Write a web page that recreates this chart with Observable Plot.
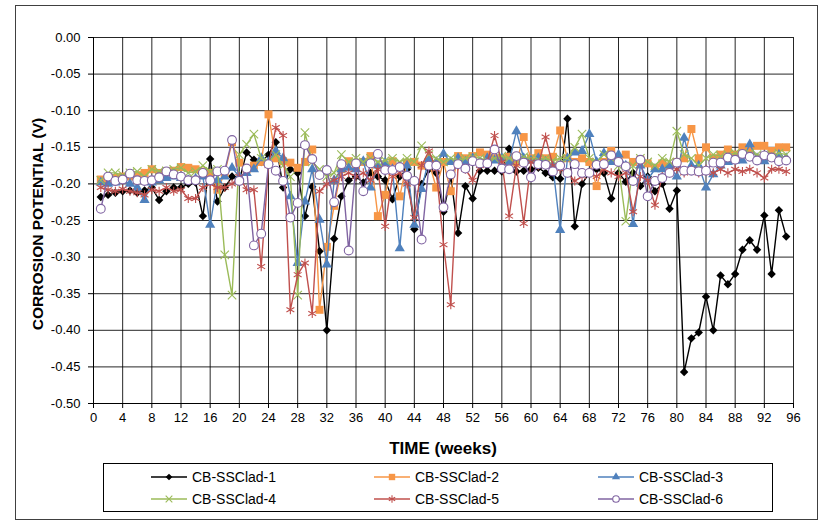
<!DOCTYPE html>
<html>
<head>
<meta charset="utf-8">
<script src="https://cdn.jsdelivr.net/npm/d3@7"></script>
<script src="https://cdn.jsdelivr.net/npm/@observablehq/plot@0.6"></script>
<style>
  html, body { margin: 0; padding: 0; background: #fff; }
  body { font-family: "Liberation Sans", Arial, sans-serif; }
  #wrap { position: relative; width: 822px; height: 524px; overflow: hidden; }
  #frame { position: absolute; left: 15px; top: 5px; width: 803px; height: 515px; border: 1px solid #404040; box-sizing: border-box; }
  #chart { position: absolute; left: 0; top: 0; }
  #ytitle { position: absolute; left: 38px; top: 224px; transform: translate(-50%, -50%) rotate(-90deg); font-weight: bold; font-size: 15.5px; white-space: nowrap; color: #000; }
  #xtitle { position: absolute; left: 443px; top: 449px; transform: translate(-50%, -50%); font-weight: bold; font-size: 17px; white-space: nowrap; color: #000; }
  #legend { position: absolute; left: 103px; top: 463px; width: 670px; height: 49px; border: 1px solid #000; box-sizing: border-box; }
  .item { position: absolute; height: 18px; display: flex; align-items: center; font-size: 14px; color: #000; white-space: nowrap; }
  .item svg { display: block; margin-right: 5px; }
</style>
</head>
<body>
<div id="wrap">
  <div id="frame"></div>
  <div id="chart"></div>
  <div id="ytitle">CORROSION POTENTIAL (V)</div>
  <div id="xtitle">TIME (weeks)</div>
  <div id="legend"></div>
</div>
<script>
// ---------------- DATA ----------------
const weeks = [1,2,3,4,5,6,7,8,9,10,11,12,13,14,15,16,17,18,19,20,21,22,23,24,25,26,27,28,29,30,31,32,33,34,35,36,37,38,39,40,41,42,43,44,45,46,47,48,49,50,51,52,53,54,55,56,57,58,59,60,61,62,63,64,65,66,67,68,69,70,71,72,73,74,75,76,77,78,79,80,81,82,83,84,85,86,87,88,89,90,91,92,93,94,95];

const seriesNames = ["CB-SSClad-1","CB-SSClad-2","CB-SSClad-3","CB-SSClad-4","CB-SSClad-5","CB-SSClad-6"];

const clad1 = [-0.218,-0.215,-0.212,-0.210,-0.209,-0.212,-0.209,-0.205,-0.222,-0.210,-0.205,-0.205,-0.200,-0.198,-0.244,-0.166,-0.224,-0.205,-0.190,-0.195,
  -0.157,-0.167,-0.170,-0.160,-0.143,-0.205,-0.180,-0.185,-0.244,-0.204,-0.292,-0.400,-0.275,-0.217,-0.195,-0.190,-0.198,-0.185,-0.190,-0.195,
  -0.221,-0.190,-0.180,-0.262,-0.200,-0.180,-0.185,-0.238,-0.190,-0.267,-0.203,-0.220,-0.182,-0.182,-0.182,-0.183,-0.152,-0.183,-0.182,-0.180,
  -0.178,-0.185,-0.191,-0.193,-0.111,-0.258,-0.200,-0.185,-0.180,-0.185,-0.220,-0.185,-0.197,-0.185,-0.203,-0.190,-0.210,-0.200,-0.234,-0.209,
  -0.457,-0.411,-0.403,-0.354,-0.400,-0.325,-0.337,-0.323,-0.290,-0.277,-0.290,-0.243,-0.323,-0.236,-0.272];

const clad2 = [-0.194,-0.195,-0.192,-0.190,-0.190,-0.188,-0.185,-0.180,-0.185,-0.183,-0.182,-0.177,-0.178,-0.180,-0.183,-0.185,-0.208,-0.185,-0.143,-0.171,
  -0.180,-0.175,-0.170,-0.105,-0.165,-0.169,-0.171,-0.178,-0.170,-0.153,-0.372,-0.286,-0.230,-0.180,-0.169,-0.175,-0.170,-0.162,-0.244,-0.215,
  -0.169,-0.217,-0.171,-0.170,-0.175,-0.170,-0.205,-0.170,-0.210,-0.162,-0.165,-0.162,-0.157,-0.160,-0.165,-0.165,-0.163,-0.170,-0.136,-0.165,
  -0.158,-0.165,-0.163,-0.127,-0.165,-0.170,-0.165,-0.170,-0.203,-0.170,-0.155,-0.165,-0.160,-0.170,-0.167,-0.172,-0.178,-0.172,-0.176,-0.170,
  -0.165,-0.125,-0.165,-0.150,-0.165,-0.160,-0.153,-0.160,-0.150,-0.155,-0.148,-0.148,-0.155,-0.150,-0.150];

const clad3 = [-0.198,-0.200,-0.198,-0.195,-0.200,-0.205,-0.222,-0.198,-0.195,-0.192,-0.190,-0.192,-0.195,-0.193,-0.190,-0.256,-0.195,-0.190,-0.178,-0.190,
  -0.185,-0.180,-0.165,-0.170,-0.155,-0.165,-0.217,-0.308,-0.224,-0.180,-0.249,-0.310,-0.195,-0.180,-0.178,-0.180,-0.169,-0.205,-0.175,-0.171,
  -0.180,-0.288,-0.175,-0.256,-0.207,-0.166,-0.170,-0.159,-0.170,-0.165,-0.170,-0.165,-0.170,-0.165,-0.168,-0.165,-0.170,-0.128,-0.165,-0.168,
  -0.165,-0.170,-0.175,-0.263,-0.165,-0.157,-0.155,-0.132,-0.170,-0.158,-0.170,-0.160,-0.175,-0.255,-0.175,-0.194,-0.180,-0.180,-0.175,-0.190,
  -0.137,-0.175,-0.175,-0.205,-0.187,-0.175,-0.170,-0.168,-0.168,-0.146,-0.165,-0.169,-0.165,-0.160,-0.165];

const clad4 = [-0.195,-0.185,-0.185,-0.188,-0.185,-0.183,-0.190,-0.180,-0.183,-0.182,-0.180,-0.178,-0.185,-0.183,-0.175,-0.183,-0.180,-0.297,-0.352,-0.160,
  -0.146,-0.132,-0.165,-0.170,-0.160,-0.175,-0.190,-0.352,-0.130,-0.170,-0.180,-0.190,-0.185,-0.160,-0.170,-0.165,-0.170,-0.165,-0.170,-0.168,
  -0.165,-0.170,-0.165,-0.170,-0.148,-0.160,-0.165,-0.170,-0.165,-0.168,-0.165,-0.163,-0.165,-0.168,-0.165,-0.162,-0.165,-0.168,-0.163,-0.165,
  -0.167,-0.165,-0.168,-0.165,-0.165,-0.150,-0.132,-0.165,-0.170,-0.160,-0.165,-0.175,-0.251,-0.175,-0.165,-0.170,-0.175,-0.165,-0.170,-0.128,
  -0.160,-0.165,-0.175,-0.165,-0.160,-0.162,-0.160,-0.158,-0.160,-0.158,-0.160,-0.162,-0.160,-0.158,-0.160];

const clad5 = [-0.205,-0.208,-0.210,-0.207,-0.210,-0.212,-0.215,-0.208,-0.210,-0.205,-0.210,-0.208,-0.220,-0.220,-0.205,-0.200,-0.205,-0.205,-0.200,-0.190,
  -0.208,-0.208,-0.313,-0.175,-0.123,-0.134,-0.372,-0.324,-0.308,-0.377,-0.210,-0.200,-0.195,-0.190,-0.185,-0.190,-0.185,-0.195,-0.180,-0.258,
  -0.190,-0.185,-0.200,-0.246,-0.175,-0.155,-0.180,-0.283,-0.365,-0.175,-0.180,-0.195,-0.175,-0.170,-0.134,-0.170,-0.244,-0.175,-0.254,-0.170,
  -0.175,-0.136,-0.175,-0.180,-0.185,-0.196,-0.190,-0.185,-0.190,-0.180,-0.185,-0.190,-0.185,-0.238,-0.190,-0.195,-0.229,-0.190,-0.185,-0.180,
  -0.185,-0.180,-0.185,-0.180,-0.185,-0.180,-0.185,-0.180,-0.183,-0.180,-0.185,-0.192,-0.180,-0.180,-0.183];

const clad6 = [-0.234,-0.190,-0.196,-0.194,-0.186,-0.195,-0.196,-0.195,-0.191,-0.183,-0.187,-0.190,-0.195,-0.195,-0.185,-0.195,-0.183,-0.182,-0.140,-0.196,
  -0.179,-0.284,-0.268,-0.173,-0.182,-0.196,-0.246,-0.226,-0.147,-0.166,-0.188,-0.181,-0.225,-0.173,-0.291,-0.172,-0.210,-0.172,-0.159,-0.181,
  -0.181,-0.177,-0.189,-0.196,-0.276,-0.175,-0.175,-0.232,-0.187,-0.173,-0.179,-0.169,-0.172,-0.172,-0.153,-0.179,-0.180,-0.162,-0.171,-0.191,
  -0.173,-0.174,-0.183,-0.175,-0.185,-0.173,-0.185,-0.185,-0.174,-0.173,-0.161,-0.170,-0.176,-0.196,-0.167,-0.217,-0.196,-0.192,-0.185,-0.171,
  -0.182,-0.182,-0.183,-0.182,-0.171,-0.171,-0.164,-0.167,-0.159,-0.163,-0.168,-0.161,-0.164,-0.169,-0.168];

const xTicks = [0,4,8,12,16,20,24,28,32,36,40,44,48,52,56,60,64,68,72,76,80,84,88,92,96];
const yTicks = [0,-0.05,-0.10,-0.15,-0.20,-0.25,-0.30,-0.35,-0.40,-0.45,-0.50];

// ---------------- STYLE ----------------
const seriesValues = [clad1, clad2, clad3, clad4, clad5, clad6];
const styles = [
  {color: "#000000", symbol: "diamond2", fill: "#000000", stroke: "none", r: 3.8},
  {color: "#F79646", symbol: "square",   fill: "#F79646", stroke: "none", r: 4.5},
  {color: "#4F81BD", symbol: "triangle", fill: "#4F81BD", stroke: "none", r: 3.8},
  {color: "#9BBB59", symbol: "times",    fill: "none",    stroke: "#9BBB59", r: 3.9},
  {color: "#C0504D", symbol: "asterisk", fill: "none",    stroke: "#C0504D", r: 4.3},
  {color: "#8064A2", symbol: "circle",   fill: "#ffffff", stroke: "#8064A2", r: 4.4}
];

const fmt = v => (v < -1e-9 ? "-" : "") + Math.abs(v).toFixed(2);

const marks = [
  Plot.gridX(xTicks, {stroke: "#000", strokeOpacity: 0.85, strokeWidth: 1}),
  Plot.gridY(yTicks, {stroke: "#000", strokeOpacity: 0.85, strokeWidth: 1}),
  Plot.ruleX([0], {stroke: "#000", strokeWidth: 1}),
  Plot.ruleY([-0.5], {stroke: "#000", strokeWidth: 1}),
  Plot.axisX(xTicks, {tickSize: 5, tickPadding: 4, fontSize: 13, label: null, tickFormat: d => String(d), stroke: "#000", fill: "#000"}),
  Plot.axisY(yTicks, {tickSize: 5, tickPadding: 8, fontSize: 13, label: null, tickFormat: fmt, stroke: "#000", fill: "#000"})
];

seriesNames.forEach((name, i) => {
  const rows = weeks.map((w, j) => ({week: w, v: seriesValues[i][j]}));
  const s = styles[i];
  marks.push(Plot.line(rows, {x: "week", y: "v", stroke: s.color, strokeWidth: 1.4}));
  marks.push(Plot.dot(rows, {x: "week", y: "v", symbol: s.symbol, fill: s.fill, stroke: s.stroke, strokeWidth: 1.1, r: s.r}));
});

const chart = Plot.plot({
  width: 822,
  height: 432,
  marginLeft: 93,
  marginRight: 29,
  marginTop: 37,
  marginBottom: 29,
  style: {fontFamily: "'Liberation Sans', Arial, sans-serif", fontSize: "13px", background: "transparent", color: "#000"},
  x: {domain: [0, 96]},
  y: {domain: [-0.5, 0]},
  marks
});
document.getElementById("chart").appendChild(chart);

// ---------------- LEGEND ----------------
const legend = d3.select("#legend");
const colX = [47, 270, 494];
const rowY = [4, 26];
const symMap = {diamond2: d3.symbolDiamond2, square: d3.symbolSquare, triangle: d3.symbolTriangle, times: d3.symbolTimes, asterisk: d3.symbolAsterisk};
seriesNames.forEach((name, i) => {
  const s = styles[i];
  const item = legend.append("div").attr("class", "item")
    .style("left", colX[i % 3] + "px").style("top", rowY[Math.floor(i / 3)] + "px");
  const svg = item.append("svg").attr("width", 36).attr("height", 18);
  svg.append("line").attr("x1", 0).attr("x2", 36).attr("y1", 9).attr("y2", 9)
    .attr("stroke", s.color).attr("stroke-width", 1.4);
  if (s.symbol === "circle") {
    svg.append("circle").attr("cx", 18).attr("cy", 9).attr("r", 3.3)
      .attr("fill", "#fff").attr("stroke", s.color).attr("stroke-width", 1.1);
  } else {
    svg.append("path").attr("transform", "translate(18,9)")
      .attr("d", d3.symbol(symMap[s.symbol], Math.PI * (s.r * 0.8) * (s.r * 0.8))())
      .attr("fill", s.fill).attr("stroke", s.stroke).attr("stroke-width", 1.1);
  }
  item.append("span").text(name);
});
</script>
</body>
</html>
